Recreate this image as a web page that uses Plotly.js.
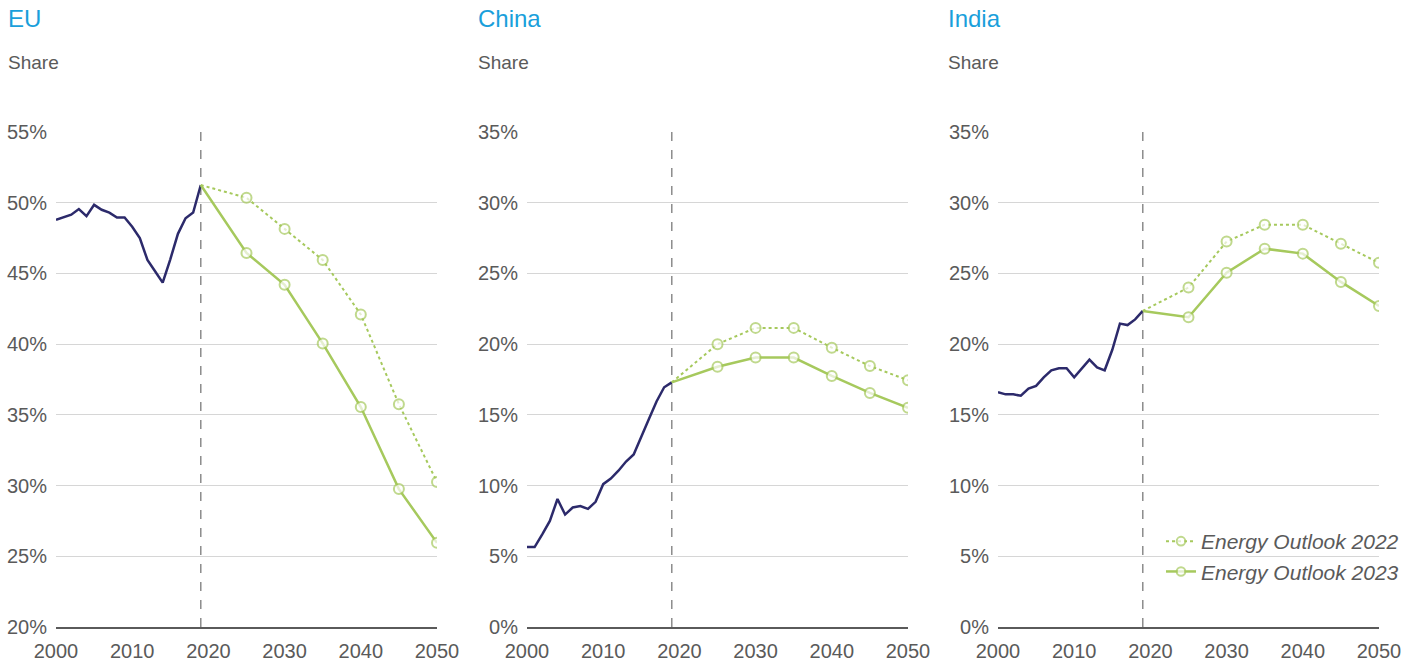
<!DOCTYPE html>
<html>
<head>
<meta charset="utf-8">
<script src="https://cdn.plot.ly/plotly-3.0.1.min.js"></script>
<style>
html,body{margin:0;padding:0;background:#fff;}
#chart{width:1417px;height:664px;}
</style>
</head>
<body>
<div id="chart"></div>
<script>
// ---- data ----
const histYears = [2000,2001,2002,2003,2004,2005,2006,2007,2008,2009,2010,2011,2012,2013,2014,2015,2016,2017,2018,2019];
const projYears = [2019,2025,2030,2035,2040,2045,2050];

const euHist = [48.8,49.0,49.15,49.55,49.05,49.85,49.5,49.3,48.95,48.95,48.3,47.5,45.95,45.15,44.35,46.0,47.8,48.9,49.3,51.25];
const euEO22 = [51.25,50.35,48.15,45.95,42.1,35.75,30.25];
const euEO23 = [51.25,46.45,44.2,40.05,35.55,29.75,25.95];

const chinaHist = [5.65,5.65,6.55,7.5,9.05,7.95,8.45,8.55,8.35,8.85,10.1,10.5,11.05,11.7,12.2,13.4,14.7,15.95,16.95,17.3];
const chinaEO22 = [17.3,20.0,21.15,21.15,19.75,18.45,17.45];
const chinaEO23 = [17.3,18.4,19.05,19.05,17.75,16.55,15.5];

const indiaHist = [16.6,16.45,16.45,16.35,16.85,17.05,17.65,18.15,18.3,18.3,17.65,18.25,18.9,18.35,18.15,19.6,21.45,21.35,21.75,22.35];
const indiaEO22 = [22.35,24.0,27.25,28.45,28.45,27.1,25.75];
const indiaEO23 = [22.35,21.9,25.05,26.75,26.4,24.4,22.7];

const panelTitles = ["EU","China","India"];
const yUnitLabel = "Share";
const seriesNames = ["Energy Outlook 2022","Energy Outlook 2023"];
const historyYear = 2019;

// ---- styling ----
const FONT = "Liberation Sans, Arial, sans-serif";
const GREY = "#5a5a5a";
const NAVY = "#2c2a6b";
const GREEN = "#a6c95d";
const GRID = "#d6d6d6";

const panels = [
  {hist: euHist, eo22: euEO22, eo23: euEO23, range:[20,55]},
  {hist: chinaHist, eo22: chinaEO22, eo23: chinaEO23, range:[0,35]},
  {hist: indiaHist, eo22: indiaEO22, eo23: indiaEO23, range:[0,35]}
];

const W = 1417, H = 664;
const xPix = [[56,437],[527,908],[998,1379]];
const yDom = [1-627/H, 1-132/H];
const titleX = [6,476,946];

const markerSizes = projYears.map((y,i)=> i===0 ? 0 : 10);

const traces = [];
const layout = {
  width: W, height: H,
  margin:{l:0,r:0,t:0,b:0},
  paper_bgcolor:"#fff", plot_bgcolor:"#fff",
  font:{family:FONT, color:GREY, size:19},
  showlegend:true,
  legend:{
    x: 1161/W, y: 1-521/H, xanchor:"left", yanchor:"top",
    font:{family:FONT, size:21, color:GREY, style:"italic"},
    bgcolor:"rgba(0,0,0,0)", traceorder:"grouped", tracegroupgap:0,
    itemwidth:30
  },
  annotations:[], shapes:[]
};

panels.forEach((p, i) => {
  const sfx = i===0 ? "" : String(i+1);
  const xa = "x"+sfx, ya = "y"+sfx;
  layout["xaxis"+sfx] = {
    domain:[xPix[i][0]/W, xPix[i][1]/W], anchor: ya,
    range:[2000,2050], tickvals:[2000,2010,2020,2030,2040,2050],
    showgrid:false, zeroline:false, showline:true, linecolor:"#5a5a5a", linewidth:1.5,
    ticks:"", ticklabelstandoff:5, tickfont:{size:20,color:GREY,family:FONT}, fixedrange:true
  };
  layout["yaxis"+sfx] = {
    domain: yDom, anchor: xa, range:p.range, dtick:5, tick0:0,
    ticksuffix:"%", showgrid:true, gridcolor:GRID, gridwidth:1,
    zeroline:false, showline:false, ticks:"", ticklabelstandoff:8,
    tickfont:{size:20,color:GREY,family:FONT}, fixedrange:true
  };
  layout.shapes.push({
    type:"line", xref:xa, yref:ya+" domain", x0:historyYear, x1:historyYear, y0:0, y1:1,
    line:{color:"#8c8c8c", width:1.5, dash:"dash"}, layer:"below"
  });
  layout.annotations.push({
    xref:"paper", yref:"paper", x:titleX[i]/W, y:1-18/H, xanchor:"left", yanchor:"middle",
    text:panelTitles[i], showarrow:false, font:{family:FONT, size:24, color:"#1a9fdb"}
  });
  layout.annotations.push({
    xref:"paper", yref:"paper", x:titleX[i]/W, y:1-63/H, xanchor:"left", yanchor:"middle",
    text:yUnitLabel, showarrow:false, font:{family:FONT, size:19, color:GREY}
  });

  traces.push({
    x: histYears, y: p.hist, xaxis:xa, yaxis:ya, type:"scatter", mode:"lines",
    line:{color:NAVY, width:2.5}, showlegend:false, hoverinfo:"skip"
  });
  traces.push({
    x: projYears, y: p.eo22, xaxis:xa, yaxis:ya, type:"scatter", mode:"lines+markers",
    name: seriesNames[0], legendgroup:"g1", showlegend: i===2,
    line:{color:GREEN, width:2, dash:"dot"},
    marker:{size:markerSizes, color:"#fff", line:{color:GREEN, width:2}}
  });
  traces.push({
    x: projYears, y: p.eo23, xaxis:xa, yaxis:ya, type:"scatter", mode:"lines+markers",
    name: seriesNames[1], legendgroup:"g2", showlegend: i===2,
    line:{color:GREEN, width:2.5},
    marker:{size:markerSizes, color:"#fff", line:{color:GREEN, width:2}}
  });
});

Plotly.newPlot("chart", traces, layout, {displayModeBar:false, staticPlot:true});
</script>
</body>
</html>
